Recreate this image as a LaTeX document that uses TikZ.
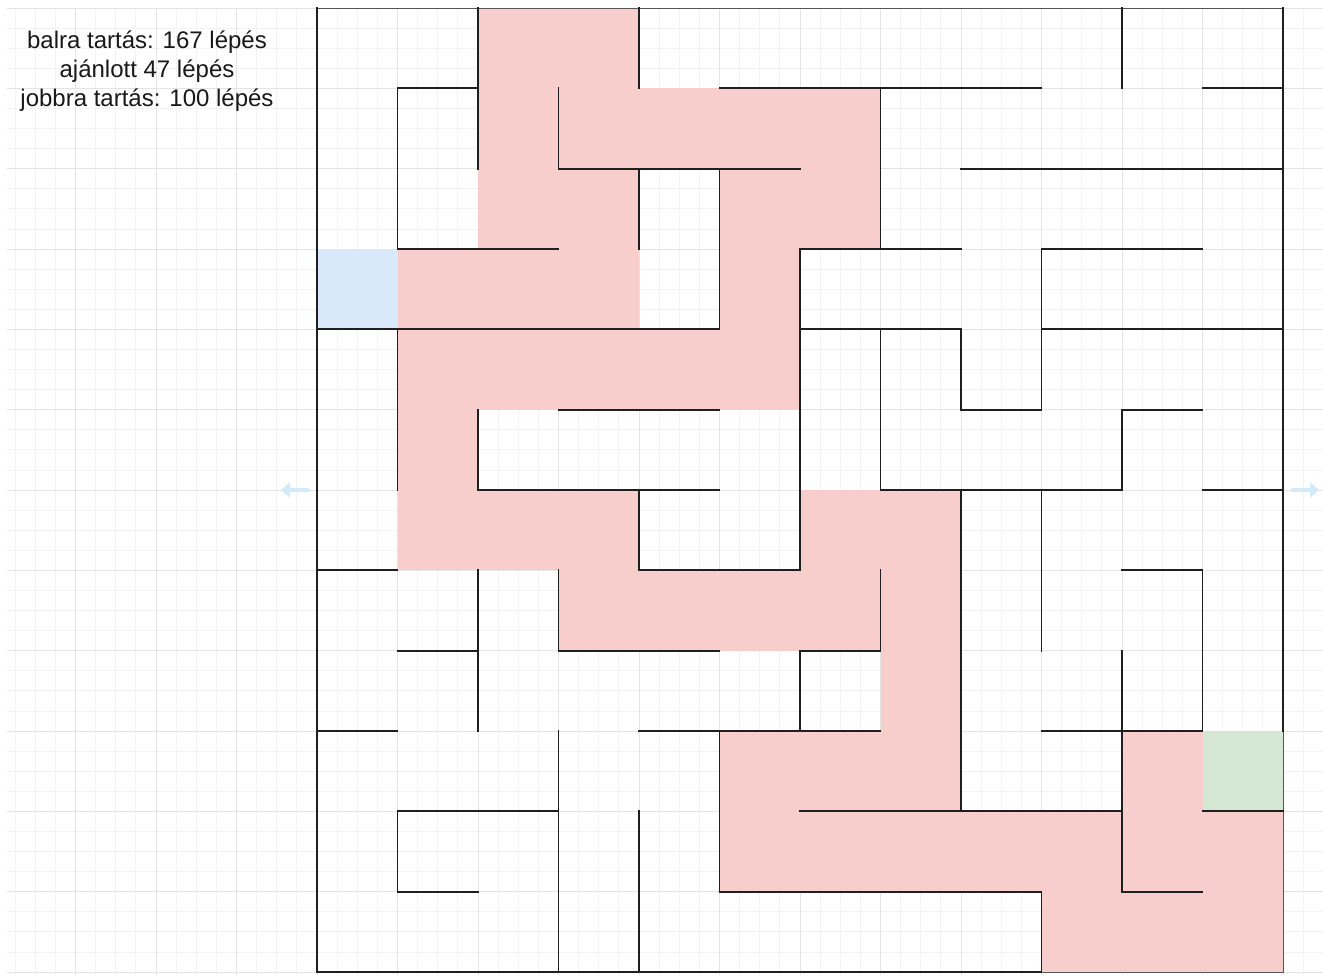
\documentclass[tikz,border=0pt]{standalone}
\usepackage{fontspec}
\setmainfont{Liberation Sans}
\usetikzlibrary{arrows.meta}
\definecolor{pathpink}{HTML}{F8CECC}
\definecolor{startblue}{HTML}{DAE8FC}
\definecolor{goalgreen}{HTML}{D5E8D4}
\definecolor{gridminor}{HTML}{F3F3F3}
\definecolor{gridmajor}{HTML}{E4E4E4}
\definecolor{hoverblue}{HTML}{D2EAFA}
\definecolor{framegray}{HTML}{555555}
\tikzset{
  wall/.style={draw=black!88, line width=1.8pt, line cap=rect},
  minorline/.style={draw=gridminor, line width=0.8pt},
  majorline/.style={draw=gridmajor, line width=1pt},
  lbl/.style={font=\fontsize{24}{29}\selectfont, inner sep=0pt, text=black!90},
  hover/.style={draw=hoverblue, line width=4.5pt, -{Triangle[length=9pt,width=15pt]}}
}
\begin{document}
\begin{tikzpicture}[x=1pt,y=-1pt]
\useasboundingbox (0,0) rectangle (1323,975);
\fill[white] (0,0) rectangle (1323,975);
% background grid
\foreach \k in {-15,...,50} {
  \pgfmathsetmacro\gx{317+20.125*\k}
  \draw[minorline] (\gx,8) -- (\gx,975);
}
\foreach \k in {0,...,48} {
  \pgfmathsetmacro\gy{8+20.0833*\k}
  \draw[minorline] (7,\gy) -- (1323,\gy);
}
\foreach \k in {-3,...,12} {
  \pgfmathsetmacro\gx{317+80.5*\k}
  \draw[majorline] (\gx,8) -- (\gx,975);
}
\foreach \k in {0,...,12} {
  \pgfmathsetmacro\gy{8+80.333*\k}
  \draw[majorline] (7,\gy) -- (1323,\gy);
}
% labels
\node[lbl, anchor=base] (t1) at (147,48.5) {balra tartás: 167 lépés};
\node[lbl, anchor=base] (t2) at (147,77) {ajánlott 47 lépés};
\node[lbl, anchor=base] (t3) at (147,106.5) {jobbra tartás: 100 lépés};
% hover arrows
\coordinate (la0) at (309,490);
\coordinate (la1) at (281,490);
\coordinate (ra0) at (1291,490);
\coordinate (ra1) at (1319,490);
\draw[hover] (la0) -- (la1);
\draw[hover] (ra0) -- (ra1);
% maze
\begin{scope}[shift={(317,8)}, x=80.5pt, y=-80.333pt]
  % solution path
  \fill[pathpink] (2,0) rectangle (4,1);
  \fill[pathpink] (2,1) rectangle (7,2);
  \fill[pathpink] (2,2) rectangle (4,3);
  \fill[pathpink] (5,2) rectangle (7,3);
  \fill[pathpink] (1,3) rectangle (4,4);
  \fill[pathpink] (5,3) rectangle (6,4);
  \fill[pathpink] (1,4) rectangle (6,5);
  \fill[pathpink] (1,5) rectangle (2,6);
  \fill[pathpink] (1,6) rectangle (4,7);
  \fill[pathpink] (6,6) rectangle (8,7);
  \fill[pathpink] (3,7) rectangle (8,8);
  \fill[pathpink] (7,8) rectangle (8,9);
  \fill[pathpink] (5,9) rectangle (8,10);
  \fill[pathpink] (10,9) rectangle (11,10);
  \fill[pathpink] (5,10) rectangle (12,11);
  \fill[pathpink] (9,11) rectangle (12,12);
  % start and goal
  \fill[startblue] (0,3) rectangle (1,4);
  \fill[goalgreen] (11,9) rectangle (12,10);
  % thin frame
  \draw[framegray, line width=1pt] (0,0) rectangle (12,12);
  % horizontal walls  j / from / to
  \foreach \j/\a/\b in {1/1/2, 1/5/9, 1/11/12,
      2/3/6, 2/8/12,
      3/1/3, 3/6/8, 3/9/11,
      4/0/5, 4/6/8, 4/9/12,
      5/3/5, 5/8/9, 5/10/11,
      6/2/5, 6/7/10, 6/11/12,
      7/0/1, 7/4/6, 7/10/11,
      8/1/2, 8/3/5, 8/6/7,
      9/0/1, 9/4/7, 9/9/11,
      10/1/3, 10/6/10, 10/11/12,
      11/1/2, 11/5/9, 11/10/11,
      12/0/9}
    {\draw[wall] (\a,\j) -- (\b,\j);}
  % vertical walls  i / from / to
  \foreach \i/\a/\b in {0/0/12,
      1/1/3, 1/4/6, 1/10/11,
      2/0/2, 2/5/6, 2/7/9,
      3/1/2, 3/7/8, 3/9/12,
      4/0/1, 4/2/3, 4/6/7, 4/10/12,
      5/2/4, 5/9/11,
      6/3/7, 6/8/9,
      7/1/3, 7/4/6, 7/7/8,
      8/4/5, 8/6/10,
      9/3/5, 9/6/8, 9/11/12,
      10/0/1, 10/5/6, 10/8/11,
      11/7/9,
      12/0/9}
    {\draw[wall] (\i,\a) -- (\i,\b);}
\end{scope}
\end{tikzpicture}
\end{document}
